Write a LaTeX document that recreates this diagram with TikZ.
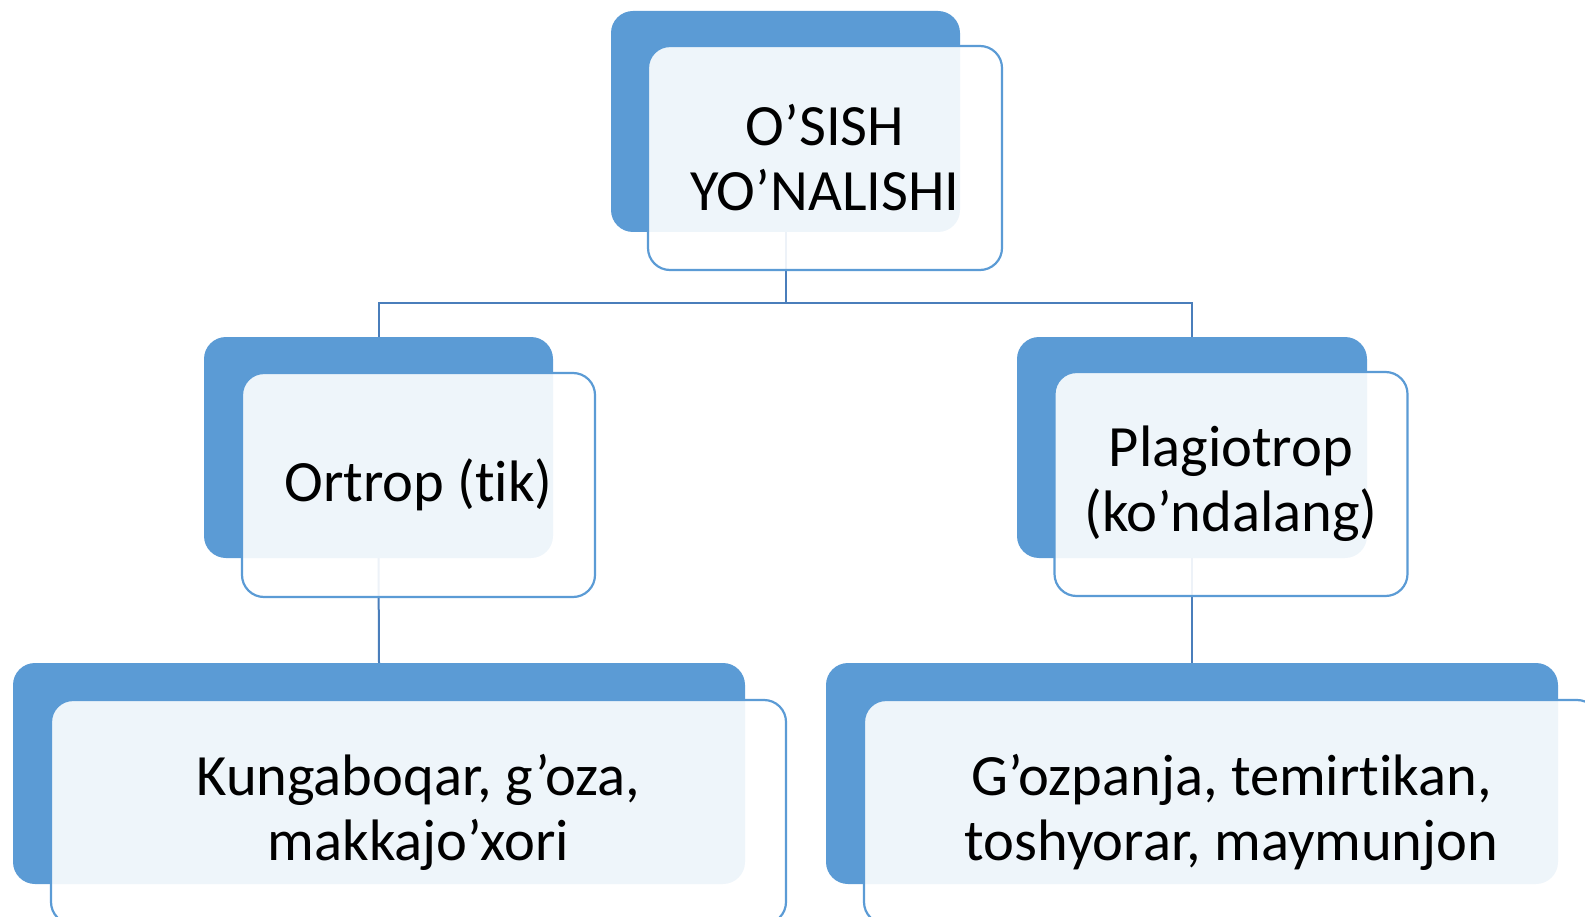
\documentclass[tikz,border=0pt]{standalone}
\usepackage{fontspec}
\setmainfont{Carlito}[Ligatures={NoCommon}]
\definecolor{accent}{HTML}{5B9BD5}
\definecolor{conn}{HTML}{4A7EBB}
\begin{document}
\begin{tikzpicture}[x=1pt,y=-1pt,
  backbox/.style={fill=accent, draw=none, rounded corners=22pt, inner sep=0pt},
  frontbox/.style={fill=white, fill opacity=0.9, text opacity=1, draw=accent, line width=2.2pt,
     rounded corners=22pt, inner sep=0pt, align=center,
     font=\fontsize{58.5}{65}\selectfont},
  link/.style={draw=conn, line width=2pt}]
\useasboundingbox (0,0) rectangle (1585,917);
% back boxes
\node[backbox, minimum width=349pt, minimum height=221pt] (tb) at (785.5,121.5) {};
\node[backbox, minimum width=349pt, minimum height=221pt] (lb) at (378.5,447.5) {};
\node[backbox, minimum width=350pt, minimum height=221pt] (rb) at (1192,447.5) {};
\node[backbox, minimum width=732pt, minimum height=221pt] (llb) at (379,773.5) {};
\node[backbox, minimum width=732pt, minimum height=221pt] (rrb) at (1192,773.5) {};
% connectors
\coordinate (hb) at (785.5,303);
\draw[link] (tb.south) -- (hb) -| (lb.north);
\draw[link] (hb) -| (rb.north);
\draw[link] (lb.south) -- (llb.north);
\draw[link] (rb.south) -- (rrb.north);
% front boxes
\node[frontbox, minimum width=354pt, minimum height=224pt] (t) at (825,158) {O’SISH\\YO’NALISHI};
\node[frontbox, minimum width=353pt, minimum height=224pt] (l) at (418.5,485) {Ortrop (tik)};
\node[frontbox, minimum width=353pt, minimum height=224pt] (r) at (1231,484) {Plagiotrop\\(ko’ndalang)};
\node[frontbox, minimum width=735pt, minimum height=224pt] (ll) at (418.5,812) {Kungaboqar, g’oza,\\makkajo’xori};
\node[frontbox, minimum width=735pt, minimum height=224pt] (rr) at (1231.5,812) {G’ozpanja, temirtikan,\\toshyorar, maymunjon};
\end{tikzpicture}
\end{document}
